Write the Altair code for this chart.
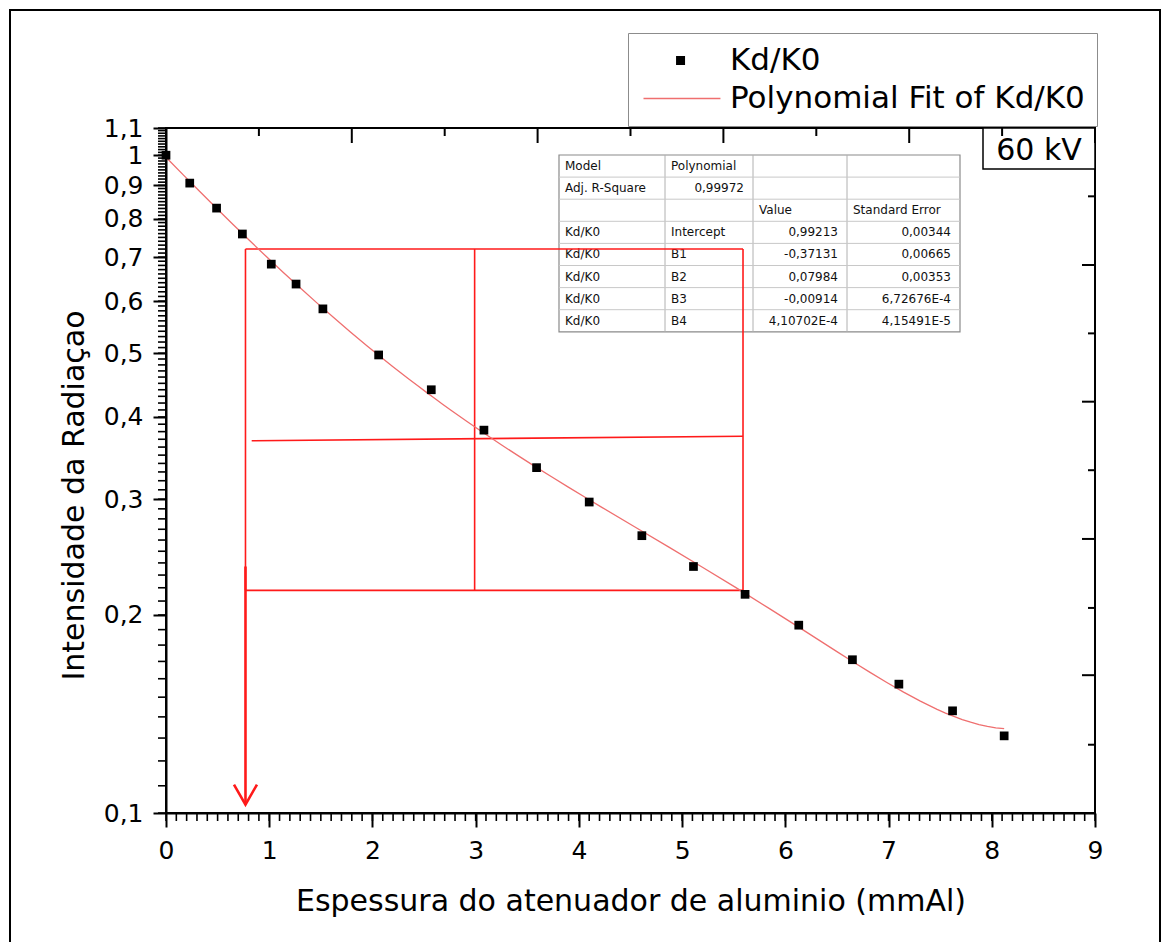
import re

import altair as alt
import pandas as pd

# Relative intensity Kd/K0 behind increasing aluminium thickness (60 kV beam)
thickness_mm = [0.0, 0.23, 0.49, 0.74, 1.02, 1.26, 1.52, 2.06, 2.57, 3.08,
                3.59, 4.10, 4.61, 5.11, 5.61, 6.13, 6.65, 7.10, 7.62, 8.12]
relative_intensity = [1.0, 0.907, 0.831, 0.759, 0.683, 0.637, 0.584, 0.497, 0.440, 0.382,
                      0.335, 0.297, 0.264, 0.237, 0.215, 0.193, 0.171, 0.157, 0.143, 0.131]

series_names = ["Kd/K0", "Polynomial Fit of Kd/K0"]
series_colors = ["#000000", "#ef6f6f"]
fit_extent = [0.0, 8.12]

# Axis ticks
x_major = list(range(10))
x_minor = [i / 10 for i in range(91)]
y_major = [0.1, 0.2, 0.3, 0.4, 0.5, 0.6, 0.7, 0.8, 0.9, 1.0, 1.1]
y_minor = [round(0.1 + i / 100, 2) for i in range(101)]
top_major = [0.0, 1.8, 3.6, 5.4, 7.2, 9.0]
top_minor = [0.9, 2.7, 4.5, 6.3, 8.1]
right_major = [0.681, 0.422, 0.261, 0.162]
right_minor = [0.866, 0.536, 0.332, 0.205, 0.127]

# Half-value-layer reading sketched over the curve
hvl_box_x = [0.77, 5.59]
hvl_box_y = [0.218, 0.720]
hvl_mid_x = 2.99
half_line_x = [0.83, 5.59]
half_line_y = [0.368, 0.374]
arrow_x = 0.77
arrow_y = [0.237, 0.103]

# Fit report
fit_table = [
    ["Model", "Polynomial", "", ""],
    ["Adj. R-Square", "0,99972", "", ""],
    ["", "", "Value", "Standard Error"],
    ["Kd/K0", "Intercept", "0,99213", "0,00344"],
    ["Kd/K0", "B1", "-0,37131", "0,00665"],
    ["Kd/K0", "B2", "0,07984", "0,00353"],
    ["Kd/K0", "B3", "-0,00914", "6,72676E-4"],
    ["Kd/K0", "B4", "4,10702E-4", "4,15491E-5"],
]
voltage_label = "60 kV"
x_title = "Espessura do atenuador de aluminio (mmAl)"
y_title = "Intensidade da Radiaçao"

# ---------------------------------------------------------------- layout
W, H = 929, 685
FONT = "DejaVu Sans"
RED = "#ff1a1a"

x_scale = alt.Scale(domain=[0, 9], nice=False, zero=False)
y_scale = alt.Scale(type="log", domain=[0.1, 1.1], nice=False)
color_scale = alt.Scale(domain=series_names, range=series_colors)

# legend glyphs: a small filled square and a thin horizontal bar sharing one centre
square_path = "M 1.37 -0.3 L 1.97 -0.3 L 1.97 0.3 L 1.37 0.3 Z"
line_path = "M -0.8 -0.05 L 4.33 -0.05 L 4.33 0.05 L -0.8 0.05 Z"
shape_scale = alt.Scale(domain=series_names, range=[square_path, line_path])

legend = alt.Legend(
    title=None,
    orient="none",
    legendX=462,
    legendY=-95,
    direction="vertical",
    labelFont=FONT,
    labelFontSize=31,
    labelColor="black",
    labelLimit=600,
    symbolSize=900,
    symbolStrokeWidth=0,
    symbolOpacity=1,
    labelOffset=59,
    rowPadding=6,
    padding=12,
    strokeColor="#8c8c8c",
    fillColor="white",
)

x_axis = alt.Axis(
    values=x_major, grid=False, labelFlush=False, labelOverlap=False,
    labelFont=FONT, labelFontSize=25, labelColor="black", labelPadding=11,
    tickSize=14, tickWidth=2, tickColor="black",
    domainColor="black", domainWidth=2,
    title=x_title, titleFont=FONT, titleFontSize=30, titleFontWeight="normal",
    titleColor="black", titleBaseline="alphabetic", titleY=97,
)
y_axis = alt.Axis(
    values=y_major, grid=False, labelOverlap=False,
    labelExpr="replace(format(datum.value, '.2~g'), '.', ',')",
    labelFont=FONT, labelFontSize=25, labelColor="black", labelPadding=10,
    tickSize=13, tickWidth=2, tickColor="black",
    domainColor="black", domainWidth=2,
    title=y_title, titleFont=FONT, titleFontSize=30, titleFontWeight="normal",
    titleColor="black", titleBaseline="alphabetic", titleX=-83, titleY=367,
)


def xq(field):
    return alt.X(field, type="quantitative", scale=x_scale, axis=x_axis)


def yq(field):
    return alt.Y(field, type="quantitative", scale=y_scale, axis=y_axis)


points_df = pd.DataFrame({
    "thickness": thickness_mm,
    "intensity": relative_intensity,
    "serie": series_names[0],
})
dummy = pd.DataFrame({"k": [0]})

# outer frame of the figure
frame = alt.Chart(dummy).mark_rect(fillOpacity=0, stroke="black", strokeWidth=2).encode(
    x=alt.value(-156), x2=alt.value(994), y=alt.value(-118), y2=alt.value(H + 140)
)

# fit report table
col_edges = [393, 499, 587, 681, 794]
table_top, row_h = 27, 22.1
table_bottom = table_top + row_h * len(fit_table)
table_layers = [
    alt.Chart(dummy).mark_rect(fill="white", stroke="#8a8a8a", strokeWidth=1.2).encode(
        x=alt.value(col_edges[0]), x2=alt.value(col_edges[-1]),
        y=alt.value(table_top), y2=alt.value(table_bottom),
    )
]
for xe in col_edges[1:-1]:
    table_layers.append(
        alt.Chart(dummy).mark_rule(color="#b0b0b0", strokeWidth=1).encode(
            x=alt.value(xe), y=alt.value(table_top), y2=alt.value(table_bottom)
        )
    )
for k in range(1, len(fit_table)):
    yk = table_top + k * row_h
    table_layers.append(
        alt.Chart(dummy).mark_rule(color="#c8c8c8", strokeWidth=1).encode(
            x=alt.value(col_edges[0]), x2=alt.value(col_edges[-1]), y=alt.value(yk)
        )
    )
for r, row in enumerate(fit_table):
    for c, cell in enumerate(row):
        if not cell:
            continue
        numeric = re.match(r"^-?\d", cell) is not None
        tx = col_edges[c + 1] - 9 if numeric else col_edges[c] + 6
        table_layers.append(
            alt.Chart(dummy).mark_text(
                text=cell, align="right" if numeric else "left", baseline="middle",
                font=FONT, fontSize=12, color="#111111",
            ).encode(x=alt.value(tx), y=alt.value(table_top + (r + 0.5) * row_h))
        )

# voltage tag in the top right corner
kv_box = alt.Chart(dummy).mark_rect(fill="white", stroke="black", strokeWidth=1.5).encode(
    x=alt.value(817), x2=alt.value(W), y=alt.value(0), y2=alt.value(41)
)
kv_text = alt.Chart(dummy).mark_text(
    text=voltage_label, align="center", baseline="middle", font=FONT, fontSize=30, color="black"
).encode(x=alt.value(873), y=alt.value(23))

# half-value-layer construction
bx0, bx1 = hvl_box_x
by0, by1 = hvl_box_y
segments = pd.DataFrame({
    "x": [bx0, bx0, bx0, bx1, hvl_mid_x, half_line_x[0]],
    "x2": [bx1, bx1, bx0, bx1, hvl_mid_x, half_line_x[1]],
    "y": [by1, by0, by0, by0, by0, half_line_y[0]],
    "y2": [by1, by0, by1, by1, by1, half_line_y[1]],
})
hvl_lines = alt.Chart(segments).mark_rule(color=RED, strokeWidth=1.6).encode(
    x=xq("x"), x2="x2:Q", y=yq("y"), y2="y2:Q",
)
arrow_df = pd.DataFrame({"x": [arrow_x], "y": [arrow_y[0]], "y2": [arrow_y[1]]})
arrow_line = alt.Chart(arrow_df).mark_rule(color=RED, strokeWidth=2.6).encode(
    x=xq("x"), y=yq("y"), y2="y2:Q",
)
arrow_head = alt.Chart(arrow_df).mark_point(
    shape="M -1 -1.74 L 0 0 L 1 -1.74", size=529, filled=False,
    stroke=RED, strokeWidth=2.6, opacity=1,
).encode(x=xq("x"), y=yq("y2"))

# polynomial fit and measured points
fit_line = alt.Chart(points_df).transform_regression(
    "thickness", "intensity", method="poly", order=4, extent=fit_extent
).mark_line(strokeWidth=1.3, color=series_colors[1]).encode(
    x=xq("thickness"), y=yq("intensity"),
)
points = alt.Chart(points_df).mark_point(
    shape="square", filled=True, size=76, opacity=1, color=series_colors[0]
).encode(x=xq("thickness"), y=yq("intensity"))

# key: no marks of its own, only the legend built from the series scales
key = alt.Chart(points_df).transform_filter("false").mark_point(
    filled=True, opacity=1
).encode(
    x=xq("thickness"),
    y=yq("intensity"),
    color=alt.Color("serie:N", scale=color_scale, legend=legend),
    shape=alt.Shape("serie:N", scale=shape_scale, legend=legend),
)


# minor and mirrored ticks
def vticks(values, y0, y1, width):
    return alt.Chart(pd.DataFrame({"v": values})).mark_rule(color="black", strokeWidth=width).encode(
        x=xq("v"), y=alt.value(y0), y2=alt.value(y1)
    )


def hticks(values, x0, x1, width):
    return alt.Chart(pd.DataFrame({"v": values})).mark_rule(color="black", strokeWidth=width).encode(
        y=yq("v"), x=alt.value(x0), x2=alt.value(x1)
    )


tick_layers = [
    vticks(x_minor, H, H + 8, 1.6),
    hticks(y_minor, 0, -8, 1.6),
    vticks(top_major, 0, 15, 2),
    vticks(top_minor, 0, 8, 2),
    hticks(right_major, W, W - 13, 2),
    hticks(right_minor, W, W - 7, 2),
]

chart = alt.layer(
    frame, *table_layers, kv_box, kv_text,
    hvl_lines, arrow_line, arrow_head, fit_line, points, key, *tick_layers,
).properties(
    width=W,
    height=H,
    padding={"left": 166, "top": 128, "right": 75, "bottom": 129},
    autosize=alt.AutoSizeParams(type="none"),
    background="white",
).configure(
    font=FONT
).configure_view(
    stroke="black", strokeWidth=2
)

chart.save("out.html", embed_options={"renderer": "svg", "actions": False})
